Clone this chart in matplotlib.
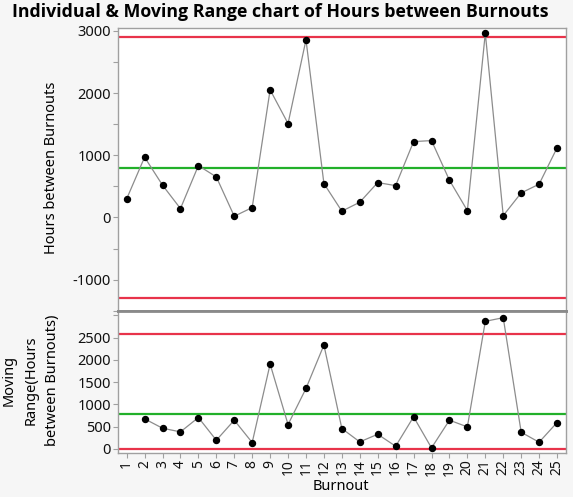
import matplotlib
matplotlib.use("Agg")
import matplotlib.pyplot as plt
from matplotlib.ticker import FixedLocator

plt.rcParams['font.family'] = ['Noto Sans', 'DejaVu Sans']
plt.rcParams['axes.unicode_minus'] = False

burnout = list(range(1, 26))
hours = [298, 968, 518, 142, 833, 651, 19, 158, 2051, 1509, 2855, 544, 100,
         244, 560, 511, 1219, 1235, 598, 109, 2963, 29, 394, 534, 1118]
mr_x = list(range(2, 26))
moving_range = [676, 465, 383, 706, 195, 646, 143, 1907, 548, 1359, 2335, 458,
                158, 330, 60, 721, 23, 646, 495, 2868, 2950, 375, 150, 593]

mean_x = 800
mr_bar = 788
ucl_x = mean_x + 2.66 * mr_bar
lcl_x = mean_x - 2.66 * mr_bar
ucl_mr = 3.267 * mr_bar
lcl_mr = 0

RED = '#e8334a'
GREEN = '#22b02a'
FRAME = '#a0a0a0'
BG = '#f6f6f6'

fig = plt.figure(figsize=(5.73, 4.97), dpi=100, facecolor=BG)
W, H = 573, 497
def rect(l, t, r, b):
    return [l / W, 1 - b / H, (r - l) / W, (b - t) / H]

ax1 = fig.add_axes(rect(117.7, 27.7, 566, 310.7))
ax2 = fig.add_axes(rect(117.7, 311.0, 566, 452.7))

for ax in (ax1, ax2):
    ax.set_facecolor('white')
    for s in ax.spines.values():
        s.set_color(FRAME)
        s.set_linewidth(1.0)
    ax.set_xlim(0.5, 25.5)
    ax.tick_params(axis='both', colors=FRAME, labelcolor='#111111', labelsize=10.5,
                   length=3.5, width=0.8, pad=1.5)
    ax.tick_params(which='minor', colors=FRAME, length=3.5, width=0.8)

ax1.spines['bottom'].set_linewidth(2.0)
ax1.spines['bottom'].set_color('#8a8a8a')
ax2.spines['top'].set_linewidth(2.0)
ax2.spines['top'].set_color('#8a8a8a')

# Individuals
ax1.axhline(ucl_x, color=RED, lw=1.6, zorder=2)
ax1.axhline(lcl_x, color=RED, lw=1.6, zorder=2)
ax1.axhline(mean_x, color=GREEN, lw=1.6, zorder=2)
ax1.plot(burnout, hours, color='#8c8c8c', lw=0.9, zorder=3)
ax1.plot(burnout, hours, 'o', color='black', ms=4.3, zorder=4)
ax1.set_ylim(-1500, 3050)
ax1.yaxis.set_major_locator(FixedLocator([-1000, 0, 1000, 2000, 3000]))
ax1.yaxis.set_minor_locator(FixedLocator([-1500, -500, 500, 1500, 2500]))
ax1.set_xticks(burnout)
ax1.tick_params(axis='x', bottom=False, labelbottom=False)

# Moving range
ax2.axhline(ucl_mr, color=RED, lw=1.6, zorder=2)
ax2.axhline(lcl_mr, color=RED, lw=1.6, zorder=2)
ax2.axhline(mr_bar, color=GREEN, lw=1.6, zorder=2)
ax2.plot(mr_x, moving_range, color='#8c8c8c', lw=0.9, zorder=3)
ax2.plot(mr_x, moving_range, 'o', color='black', ms=4.3, zorder=4)
ax2.set_ylim(-85, 3100)
ax2.yaxis.set_major_locator(FixedLocator([0, 500, 1000, 1500, 2000, 2500]))
ax2.yaxis.set_minor_locator(FixedLocator([3000]))
ax2.set_xticks(burnout)
ax2.set_xticklabels([str(b) for b in burnout], rotation=90, fontsize=10)

fig.text(52 / W, 1 - 168 / H, 'Hours between Burnouts', rotation=90,
         ha='center', va='center', fontsize=10.5, color='black')
fig.text(31 / W, 1 - 380 / H, 'Moving\nRange(Hours\nbetween Burnouts)', rotation=90,
         ha='center', va='center', multialignment='center', fontsize=10.5,
         color='black', linespacing=1.6)
fig.text(341 / W, 1 - 486.5 / H, 'Burnout', ha='center', va='center',
         fontsize=10.5, color='black')

fig.text(280 / W, 1 - 12 / H, 'Individual & Moving Range chart of Hours between Burnouts',
         ha='center', va='center', fontsize=12.8, fontweight='bold',
         family=['Open Sans', 'DejaVu Sans'], color='black')

fig.savefig('out.png', dpi=100, facecolor=BG)
